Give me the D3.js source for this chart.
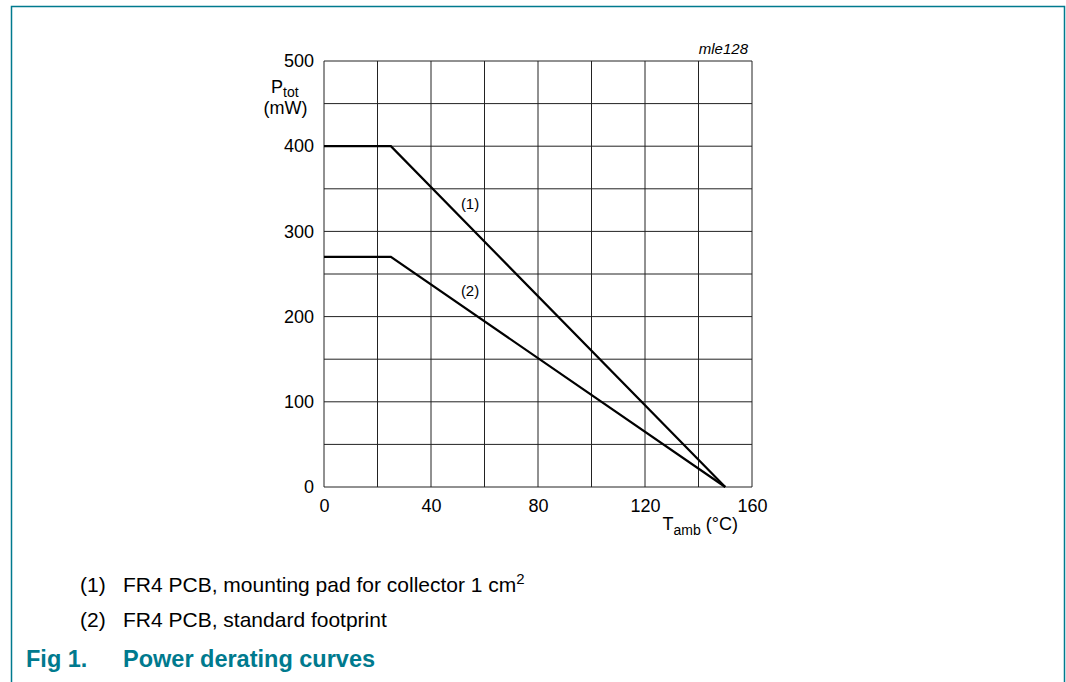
<!DOCTYPE html>
<html><head><meta charset="utf-8">
<script src="https://cdn.jsdelivr.net/npm/d3@7"></script>
<style>body{margin:0;background:#fff;}svg{display:block;font-family:"Liberation Sans",Arial,sans-serif;}</style>
</head><body>
<svg id="c" width="1066" height="682"></svg>
<script>
const xTicks = [0, 40, 80, 120, 160];
const yTicks = [0, 100, 200, 300, 400, 500];
const xGrid = [0, 20, 40, 60, 80, 100, 120, 140, 160];
const yGrid = [0, 50, 100, 150, 200, 250, 300, 350, 400, 450, 500];
const curve1 = [[0, 400], [25, 400], [150, 0]];
const curve2 = [[0, 270], [25, 270], [150, 0]];
const curveLabels = [{t: "(1)", x: 54.6, y: 326}, {t: "(2)", x: 54.6, y: 224}];
const notes = [{k: "(1)", t: "FR4 PCB, mounting pad for collector 1 cm", sup: "2"}, {k: "(2)", t: "FR4 PCB, standard footprint", sup: ""}];
const figNo = "Fig 1.";
const figTitle = "Power derating curves";

const svg = d3.select("#c");
const teal = "#007a8e";
// frame
svg.append("path").attr("d", "M11.5,682 V6.5 H1064.5 V682").attr("fill", "none").attr("stroke", teal).attr("stroke-width", 1.5);

const x = d3.scaleLinear().domain([0, 160]).range([324, 752]);
const y = d3.scaleLinear().domain([0, 500]).range([487, 61]);

const g = svg.append("g");
g.selectAll(".vg").data(xGrid).join("line").attr("x1", d => x(d)).attr("x2", d => x(d)).attr("y1", y(0)).attr("y2", y(500)).attr("stroke", "#222").attr("stroke-width", 1);
g.selectAll(".hg").data(yGrid).join("line").attr("y1", d => y(d)).attr("y2", d => y(d)).attr("x1", x(0)).attr("x2", x(160)).attr("stroke", "#222").attr("stroke-width", 1);

const xa = svg.append("g").attr("transform", `translate(0,${y(0)})`).call(d3.axisBottom(x).tickValues(xTicks).tickSize(0).tickPadding(12));
xa.select(".domain").remove();
xa.selectAll("text").attr("font-size", 18).attr("fill", "#000").attr("font-family", "Liberation Sans, Arial, sans-serif");
const ya = svg.append("g").attr("transform", `translate(${x(0)},0)`).call(d3.axisLeft(y).tickValues(yTicks).tickSize(0).tickPadding(10));
ya.select(".domain").remove();
ya.selectAll("text").attr("font-size", 18).attr("fill", "#000").attr("font-family", "Liberation Sans, Arial, sans-serif");

const line = d3.line().x(d => x(d[0])).y(d => y(d[1]));
[curve1, curve2].forEach(c => svg.append("path").attr("d", line(c)).attr("fill", "none").attr("stroke", "#000").attr("stroke-width", 2.2).attr("stroke-linejoin", "miter"));

svg.selectAll(".cl").data(curveLabels).join("text").attr("x", d => x(d.x)).attr("y", d => y(d.y)).attr("text-anchor", "middle").attr("font-size", 15).text(d => d.t);

// y label
const yl = svg.append("text").attr("x", 271).attr("y", 93).attr("font-size", 18);
yl.append("tspan").text("P");
yl.append("tspan").attr("font-size", 14).attr("dy", 4).text("tot");
svg.append("text").attr("x", 285.5).attr("y", 114).attr("text-anchor", "middle").attr("font-size", 18).text("(mW)");
// x label
const xl = svg.append("text").attr("x", 738).attr("y", 530).attr("text-anchor", "end").attr("font-size", 18);
xl.append("tspan").text("T");
xl.append("tspan").attr("font-size", 14).attr("dy", 5).text("amb");
xl.append("tspan").attr("dy", -5).text(" (\u00B0C)");
svg.append("text").attr("x", 748).attr("y", 54).attr("text-anchor", "end").attr("font-size", 15).attr("font-style", "italic").text("mle128");

// notes
notes.forEach((n, i) => {
  const yy = 592 + i * 35;
  svg.append("text").attr("x", 80).attr("y", yy).attr("font-size", 21).text(n.k);
  const t = svg.append("text").attr("x", 123).attr("y", yy).attr("font-size", 21).text(n.t);
  if (n.sup) t.append("tspan").attr("font-size", 15).attr("dy", -8).text(n.sup);
});
svg.append("text").attr("x", 26).attr("y", 667).attr("font-size", 23.5).attr("font-weight", "bold").attr("fill", teal).text(figNo);
svg.append("text").attr("x", 123).attr("y", 667).attr("font-size", 23.5).attr("font-weight", "bold").attr("fill", teal).text(figTitle);
</script>
</body></html>
